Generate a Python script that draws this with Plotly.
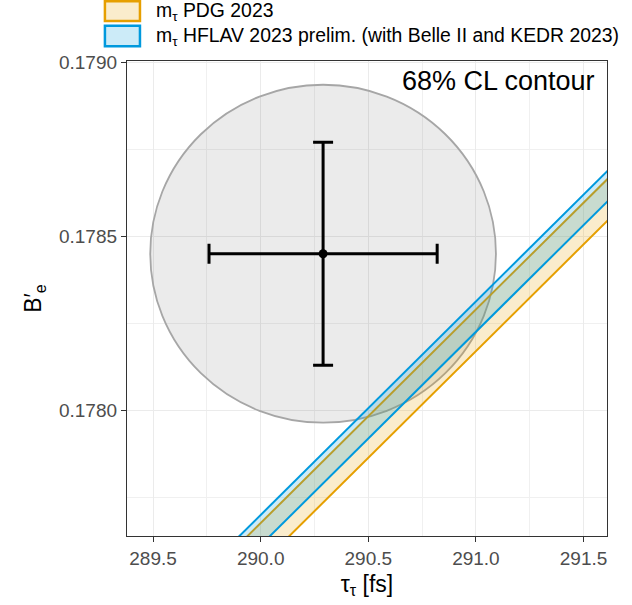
import math
import plotly.graph_objects as go

# ---- data ----
tau_center = 290.29      # fs
tau_err = 0.53
be_center = 0.17845
be_err = 0.00032
cl_scale = math.sqrt(-2 * math.log(1 - 0.6827))  # 68% CL, 2 dof

band_tau = [289.3, 291.7]
pdg_lower = [0.1771297, 0.1785992]
pdg_upper = [0.1772483, 0.1787188]
hflav_lower = [0.1771847, 0.1786546]
hflav_upper = [0.1772715, 0.1787421]

legend_labels = ["m<sub>τ</sub> PDG 2023",
                 "m<sub>τ</sub> HFLAV 2023 prelim. (with Belle II and KEDR 2023)"]

x_range = [289.379, 291.609]
y_range = [0.17764, 0.179003]

ORANGE = "#E69F00"
BLUE = "#0099DD"
ORANGE_FILL = "rgba(230,159,0,0.2)"
BLUE_FILL = "rgba(0,153,221,0.2)"
FONT = "Liberation Sans, Arial, sans-serif"

fig = go.Figure()

# PDG band
fig.add_trace(go.Scatter(x=band_tau, y=pdg_lower, mode="lines",
                         line=dict(color=ORANGE, width=2), showlegend=False, hoverinfo="skip"))
fig.add_trace(go.Scatter(x=band_tau, y=pdg_upper, mode="lines", fill="tonexty",
                         fillcolor=ORANGE_FILL,
                         line=dict(color=ORANGE, width=2), showlegend=False, hoverinfo="skip"))
# HFLAV band
fig.add_trace(go.Scatter(x=band_tau, y=hflav_lower, mode="lines",
                         line=dict(color=BLUE, width=2), showlegend=False, hoverinfo="skip"))
fig.add_trace(go.Scatter(x=band_tau, y=hflav_upper, mode="lines", fill="tonexty",
                         fillcolor=BLUE_FILL,
                         line=dict(color=BLUE, width=2), showlegend=False, hoverinfo="skip"))

# central value with errors
fig.add_trace(go.Scatter(x=[tau_center], y=[be_center], mode="markers",
                         marker=dict(color="black", size=9),
                         error_x=dict(type="data", array=[tau_err], color="black",
                                      thickness=3, width=10),
                         error_y=dict(type="data", array=[be_err], color="black",
                                      thickness=3, width=10),
                         showlegend=False))

# 68% CL contour
rx = cl_scale * tau_err
ry = cl_scale * be_err
fig.add_shape(type="circle", xref="x", yref="y",
              x0=tau_center - rx, x1=tau_center + rx,
              y0=be_center - ry, y1=be_center + ry,
              fillcolor="rgba(0,0,0,0.08)",
              line=dict(color="#A6A6A6", width=1.8), layer="between")

# manual legend (outside the panel, top)
key_specs = [(ORANGE, ORANGE_FILL), (BLUE, BLUE_FILL)]
key_y = [(1.084, 1.126), (1.031, 1.074)]
for (lc, fc), (y0, y1), lab in zip(key_specs, key_y, legend_labels):
    fig.add_shape(type="rect", xref="paper", yref="paper",
                  x0=-0.046, x1=0.027, y0=y0, y1=y1,
                  fillcolor=fc, line=dict(color=lc, width=2.5))
    fig.add_annotation(xref="paper", yref="paper", x=0.056, y=(y0 + y1) / 2,
                       text=lab, showarrow=False, xanchor="left", yanchor="middle",
                       font=dict(family=FONT, size=19.4, color="black"))

fig.add_annotation(xref="x domain", yref="y domain", x=0.98, y=0.957,
                   text="68% CL contour", showarrow=False,
                   xanchor="right", yanchor="middle",
                   font=dict(family=FONT, size=27, color="black"))

axis_common = dict(showline=True, mirror=True, linecolor="#333333", linewidth=1.3,
                   ticks="outside", ticklen=5, tickcolor="#333333", tickwidth=1.3,
                   showgrid=True, gridcolor="#EBEBEB", gridwidth=1.3, zeroline=False,
                   tickfont=dict(family=FONT, size=19, color="#4D4D4D"))

fig.update_xaxes(range=x_range, tick0=289.5, dtick=0.5, tickformat=".1f",
                 minor=dict(dtick=0.25, tick0=289.25, showgrid=True,
                            gridcolor="#F0F0F0", gridwidth=1, ticks=""),
                 title=dict(text="τ<sub>τ</sub> [fs]", standoff=7,
                            font=dict(family=FONT, size=23, color="black")),
                 **axis_common)
fig.update_yaxes(range=y_range, tick0=0.178, dtick=0.0005, tickformat=".4f",
                 minor=dict(dtick=0.00025, tick0=0.17775, showgrid=True,
                            gridcolor="#F0F0F0", gridwidth=1, ticks=""),
                 title=dict(text="B′<sub>e</sub>", standoff=10,
                            font=dict(family=FONT, size=23, color="black")),
                 **axis_common)

fig.update_layout(width=632, height=605,
                  margin=dict(l=127, r=25, t=61, b=69, autoexpand=False),
                  plot_bgcolor="white", paper_bgcolor="white",
                  font=dict(family=FONT), showlegend=False)

fig.write_html("out.html", config={"displayModeBar": False},
               post_script="document.body.style.margin='0';document.body.style.overflow='hidden';")
